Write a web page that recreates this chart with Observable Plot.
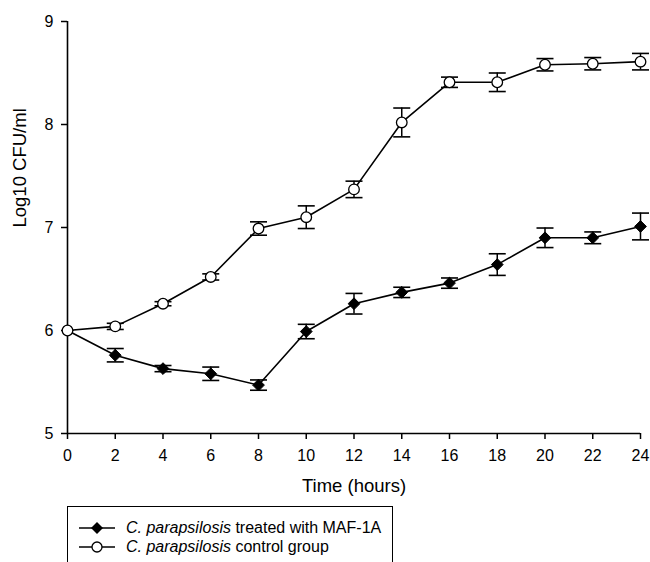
<!DOCTYPE html>
<html><head><meta charset="utf-8">
<script src="https://cdn.jsdelivr.net/npm/d3@7"></script>
<script src="https://cdn.jsdelivr.net/npm/@observablehq/plot@0.6"></script>
<style>
html,body{margin:0;padding:0;background:#fff;overflow:hidden;width:650px;height:562px;}
#wrap{position:relative;width:650px;height:562px;font-family:"Liberation Sans",Arial,sans-serif;color:#000;}
#chart{position:absolute;left:0;top:0;}
#legend{position:absolute;left:67px;top:506px;width:326px;height:80px;border:1.5px solid #000;box-sizing:border-box;background:#fff;}
.row{position:absolute;left:11px;display:flex;align-items:center;font-size:16px;height:20px;white-space:nowrap;}
.row svg{margin-right:11px;}
</style></head><body><div id="wrap"><div id="chart"></div><div id="legend"></div></div>
<script>
const hours = [0, 2, 4, 6, 8, 10, 12, 14, 16, 18, 20, 22, 24];
const treatedMean = [6.00, 5.76, 5.63, 5.58, 5.47, 5.99, 6.26, 6.37, 6.46, 6.64, 6.90, 6.90, 7.01];
const treatedErr  = [0, 0.065, 0.03, 0.065, 0.05, 0.07, 0.10, 0.05, 0.05, 0.105, 0.095, 0.057, 0.13];
const controlMean = [6.00, 6.04, 6.26, 6.52, 6.99, 7.10, 7.37, 8.02, 8.41, 8.41, 8.58, 8.59, 8.61];
const controlErr  = [0, 0.03, 0.02, 0.03, 0.065, 0.11, 0.08, 0.14, 0.05, 0.09, 0.06, 0.06, 0.08];
const xTicks = [0, 2, 4, 6, 8, 10, 12, 14, 16, 18, 20, 22, 24];
const yTicks = [5, 6, 7, 8, 9];
const seriesLabels = ["treated with MAF-1A", "control group"];
const speciesLabel = "C. parapsilosis";
const xLabel = "Time (hours)";
const yLabel = "Log10 CFU/ml";

const treated = hours.map((h, i) => ({hour: h, mean: treatedMean[i], err: treatedErr[i]}));
const control = hours.map((h, i) => ({hour: h, mean: controlMean[i], err: controlErr[i]}));

const capSymbol = {draw(ctx, size) { const w = Math.sqrt(size / Math.PI); ctx.moveTo(-w, 0); ctx.lineTo(w, 0); }};

function seriesMarks(data, markerOpts) {
  const withErr = data.filter(d => d.err > 0);
  return [
    Plot.line(data, {x: "hour", y: "mean", stroke: "black", strokeWidth: 1.6}),
    Plot.ruleX(withErr, {x: "hour", y1: d => d.mean - d.err, y2: d => d.mean + d.err, stroke: "black", strokeWidth: 1.5}),
    Plot.dot(withErr, {x: "hour", y: d => d.mean - d.err, symbol: capSymbol, r: 8.5, stroke: "black", strokeWidth: 1.6}),
    Plot.dot(withErr, {x: "hour", y: d => d.mean + d.err, symbol: capSymbol, r: 8.5, stroke: "black", strokeWidth: 1.6}),
    Plot.dot(data, {x: "hour", y: "mean", ...markerOpts})
  ];
}

const chart = Plot.plot({
  width: 650,
  height: 500,
  marginLeft: 67,
  marginRight: 10,
  marginTop: 21,
  marginBottom: 67,
  style: {fontFamily: "'Liberation Sans', Arial, sans-serif", fontSize: "16px", color: "black", background: "white"},
  x: {domain: [0, 24]},
  y: {domain: [5, 9]},
  marks: [
    Plot.axisX({ticks: xTicks, tickSize: 6, tickPadding: 10, fontSize: 16, label: null, strokeWidth: 1.5, tickFormat: d => String(d)}),
    Plot.axisY({ticks: yTicks, tickSize: 6, tickPadding: 8, fontSize: 16, label: null, strokeWidth: 1.5, tickFormat: d => String(d)}),
    Plot.ruleY([5], {stroke: "black", strokeWidth: 1.6}),
    Plot.ruleX([0], {stroke: "black", strokeWidth: 1.6}),
    ...seriesMarks(treated, {symbol: "diamond2", r: 5.3, fill: "black", stroke: "black", strokeWidth: 1}),
    ...seriesMarks(control, {symbol: "circle", r: 5.3, fill: "white", stroke: "black", strokeWidth: 1.3}),
    Plot.text([xLabel], {text: d => d, frameAnchor: "bottom", dy: 58, fontSize: 18.5}),
    Plot.text([yLabel], {text: d => d, frameAnchor: "left", rotate: -90, dx: -47, fontSize: 18.5})
  ]
});
document.getElementById("chart").appendChild(chart);

const legend = document.getElementById("legend");
const legendSymbols = [
  '<polygon points="18,4 24,10 18,16 12,10" fill="black"/>',
  '<circle cx="18" cy="10" r="5" fill="white" stroke="black" stroke-width="1.3"/>'
];
seriesLabels.forEach((lab, i) => {
  const row = document.createElement("div");
  row.className = "row";
  row.style.top = (11 + i * 19) + "px";
  row.innerHTML = '<svg width="36" height="20"><line x1="0" y1="10" x2="36" y2="10" stroke="black" stroke-width="1.5"/>' + legendSymbols[i] + '</svg>' +
    '<span><i>' + speciesLabel + '</i> ' + lab + '</span>';
  legend.appendChild(row);
});
</script>
</body></html>
